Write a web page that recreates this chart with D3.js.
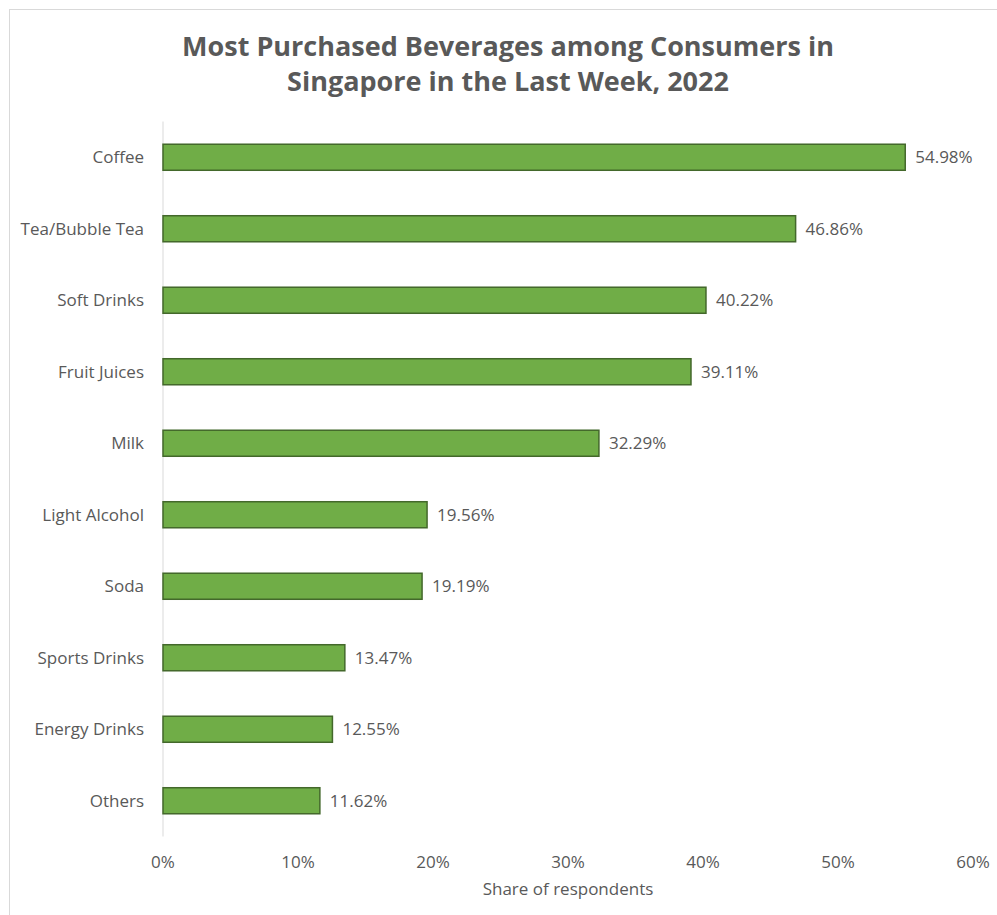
<!DOCTYPE html>
<head>
  <meta charset="utf-8">
  <script src="https://d3js.org/d3.v7.min.js"></script>
  <style>
    body {
      margin: 0;
      background: #fff;
      font-family: "Open Sans", "Noto Sans", Arial, sans-serif;
      color: #595959;
    }
    .title {
      font-size: 27px;
      font-weight: bold;
      fill: #595959;
    }
    .cat, .val, .tick-label, .axis-title {
      font-size: 17px;
      fill: #595959;
    }
    .bar {
      fill: #70ad47;
      stroke: #43682b;
      stroke-width: 1.5px;
    }
  </style>
</head>
<body>
  <div id="vis"></div>
  <script>
    var categories = ["Coffee", "Tea/Bubble Tea", "Soft Drinks", "Fruit Juices", "Milk",
      "Light Alcohol", "Soda", "Sports Drinks", "Energy Drinks", "Others"];
    var values = [54.98, 46.86, 40.22, 39.11, 32.29, 19.56, 19.19, 13.47, 12.55, 11.62];
    var tickValues = [0, 10, 20, 30, 40, 50, 60];
    var titleLines = ["Most Purchased Beverages among Consumers in", "Singapore in the Last Week, 2022"];
    var xTitle = "Share of respondents";

    var width = 997, height = 915;
    var plot = { left: 163, right: 973, top: 121.5, bottom: 836.5 };

    var svg = d3.select("#vis")
      .append("svg")
      .attr("width", width)
      .attr("height", height);

    // chart border
    svg.append("rect")
      .attr("x", 9.5)
      .attr("y", 9.5)
      .attr("width", 1000)
      .attr("height", 1000)
      .attr("fill", "none")
      .attr("stroke", "#d9d9d9")
      .attr("stroke-width", 1);

    svg.selectAll(".title")
      .data(titleLines)
      .enter()
      .append("text")
      .attr("class", "title")
      .attr("x", 508)
      .attr("y", function (d, i) { return 56 + i * 35; })
      .attr("text-anchor", "middle")
      .text(function (d) { return d; });

    var x = d3.scaleLinear()
      .domain([0, 60])
      .range([plot.left, plot.right]);

    var y = d3.scaleBand()
      .domain(categories)
      .range([plot.top, plot.bottom])
      .paddingInner(0.636)
      .paddingOuter(0.318);

    // vertical axis line
    svg.append("line")
      .attr("x1", x(0))
      .attr("x2", x(0))
      .attr("y1", plot.top)
      .attr("y2", plot.bottom)
      .attr("stroke", "#d9d9d9")
      .attr("stroke-width", 1);

    var data = categories.map(function (c, i) { return { cat: c, val: values[i] }; });

    svg.selectAll(".bar")
      .data(data)
      .enter()
      .append("rect")
      .attr("class", "bar")
      .attr("x", x(0))
      .attr("y", function (d) { return y(d.cat); })
      .attr("width", function (d) { return x(d.val) - x(0); })
      .attr("height", y.bandwidth());

    svg.selectAll(".cat")
      .data(data)
      .enter()
      .append("text")
      .attr("class", "cat")
      .attr("x", 144)
      .attr("y", function (d) { return y(d.cat) + y.bandwidth() / 2; })
      .attr("dy", "0.35em")
      .attr("text-anchor", "end")
      .text(function (d) { return d.cat; });

    svg.selectAll(".val")
      .data(data)
      .enter()
      .append("text")
      .attr("class", "val")
      .attr("x", function (d) { return x(d.val) + 10; })
      .attr("y", function (d) { return y(d.cat) + y.bandwidth() / 2; })
      .attr("dy", "0.35em")
      .text(function (d) { return d.val.toFixed(2) + "%"; });

    svg.selectAll(".tick-label")
      .data(tickValues)
      .enter()
      .append("text")
      .attr("class", "tick-label")
      .attr("x", function (d) { return x(d); })
      .attr("y", 862)
      .attr("dy", "0.35em")
      .attr("text-anchor", "middle")
      .text(function (d) { return d + "%"; });

    svg.append("text")
      .attr("class", "axis-title")
      .attr("x", (plot.left + plot.right) / 2)
      .attr("y", 889)
      .attr("dy", "0.35em")
      .attr("text-anchor", "middle")
      .text(xTitle);
  </script>
</body>
